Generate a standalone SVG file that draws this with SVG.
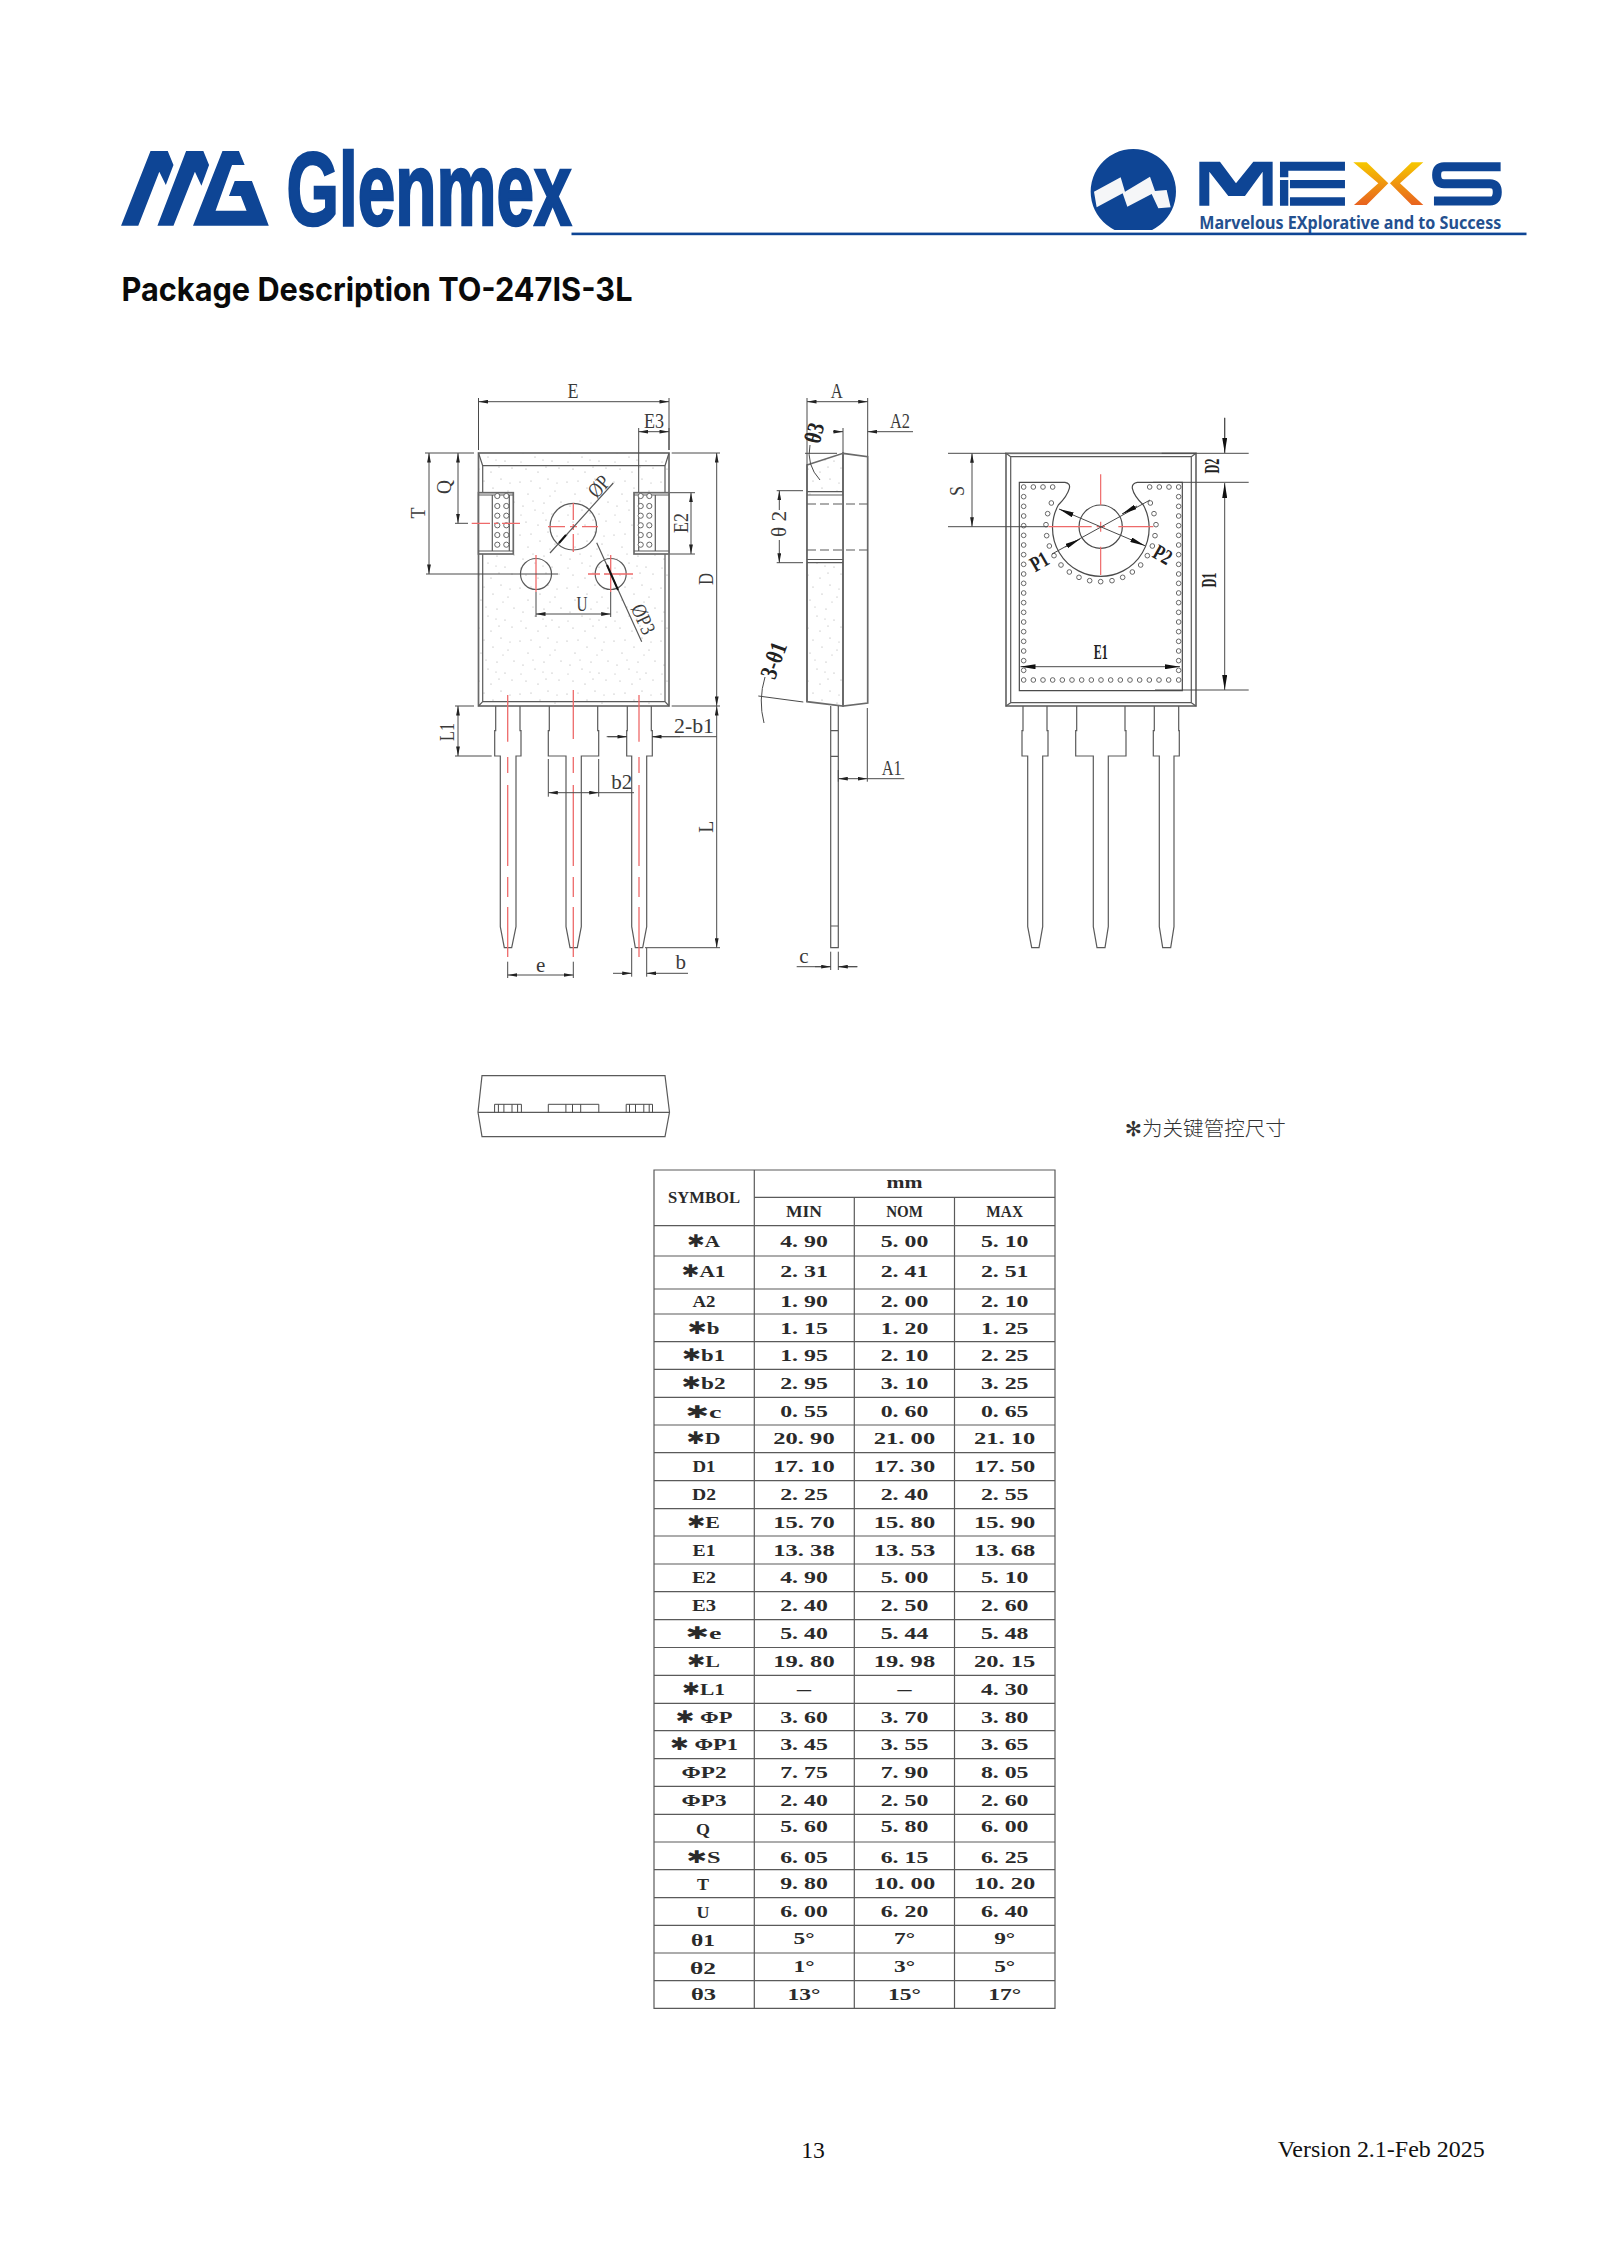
<svg xmlns="http://www.w3.org/2000/svg" width="1600" height="2262" viewBox="0 0 1600 2262">
<style>
.l{fill:none;stroke:#5a5a5a;stroke-width:1.2}
.t{fill:none;stroke:#6a6a6a;stroke-width:1.7}
.d{fill:none;stroke:#4a4a4a;stroke-width:1}
.r{fill:none;stroke:#ee6a6a;stroke-width:1.3}
.h{fill:#fff;stroke:#666;stroke-width:1}
.a{marker-end:url(#arr)}
.aa{marker-start:url(#arr);marker-end:url(#arr)}
.b{marker-end:url(#big)}
.bb{marker-start:url(#big);marker-end:url(#big)}
.lb{font-family:"Liberation Serif",serif;font-size:21px;fill:#3a3a3a;text-anchor:middle}
.lbb{font-family:"Liberation Serif",serif;font-size:21px;font-weight:bold;fill:#222;text-anchor:middle}
.v{font-family:"Liberation Serif",serif;font-weight:bold;font-size:17.5px;fill:#2a2a2a;text-anchor:middle}
.s{font-family:"Liberation Serif","DejaVu Sans",serif;font-weight:bold;font-size:17.5px;fill:#2a2a2a;text-anchor:middle}
.st{font-family:"DejaVu Sans",sans-serif}
.g{stroke:#5a5a5a;stroke-width:1.2;fill:none}
.bl{fill:#0e4595}
</style>
<defs>
<marker id="arr" viewBox="0 0 10 4" refX="10" refY="2" markerUnits="userSpaceOnUse" markerWidth="10" markerHeight="3.8" orient="auto-start-reverse"><path d="M0,0L10,2L0,4Z" fill="#222"/></marker>
<marker id="big" viewBox="0 0 15 5" refX="15" refY="2.5" markerUnits="userSpaceOnUse" markerWidth="15" markerHeight="5" orient="auto-start-reverse"><path d="M0,0L15,2.5L0,5Z" fill="#111"/></marker>
<linearGradient id="xg" x1="0" y1="0" x2="0" y2="1"><stop offset="0" stop-color="#f6c800"/><stop offset="1" stop-color="#e8621f"/></linearGradient>
<pattern id="sp" width="47" height="53" patternUnits="userSpaceOnUse"><g fill="#a0a0a0"><circle cx="3" cy="5" r=".6"/><circle cx="11" cy="17" r=".6"/><circle cx="14" cy="4" r=".55"/><circle cx="23" cy="11" r=".6"/><circle cx="31" cy="2" r=".6"/><circle cx="38" cy="14" r=".55"/><circle cx="44" cy="25" r=".6"/><circle cx="6" cy="29" r=".6"/><circle cx="18" cy="33" r=".55"/><circle cx="27" cy="26" r=".6"/><circle cx="35" cy="37" r=".6"/><circle cx="42" cy="44" r=".55"/><circle cx="9" cy="45" r=".6"/><circle cx="21" cy="48" r=".6"/><circle cx="29" cy="43" r=".55"/><circle cx="16" cy="24" r=".5"/><circle cx="40" cy="6" r=".5"/><circle cx="33" cy="19" r=".5"/><circle cx="4" cy="38" r=".5"/><circle cx="26" cy="36" r=".5"/></g></pattern>
</defs>

<g id="logo-glenmex">
<g class="bl" transform="translate(100,120) scale(.3827,.3333)">
<polygon points="55,317 132,93 177,93 192,135 172,195 155,155 100,317"/>
<polygon points="150,317 225,93 270,93 285,135 265,197 248,155 192,317"/>
<polygon points="243,317 320,93 363,93 378,135 345,135 302,272 383,272 368,228 337,228 352,183 397,183 441,317"/>
</g>
<text x="286.5" y="224.5" font-family="Liberation Sans,sans-serif" font-weight="bold" font-size="104" textLength="285" lengthAdjust="spacingAndGlyphs" fill="#0e4595" stroke="#0e4595" stroke-width="2.6">Glenmex</text>
</g>

<g id="logo-mexs" transform="translate(1050,120) scale(.3333)">
<path class="bl" d="M193.8,330A128,128 0 1 1 306.2,330Z"/>
<polygon fill="#f5f6f8" points="132,215 212,172 225,215 300,170 315,213 350,210 362,262 325,265 305,222 232,260 218,220 140,262"/>
<path class="bl" d="M448,125H510L558,190L610,125H668V257H638V155L585,228H535L478,155V257H448Z"/>
<path class="bl" d="M690,125H885V152H715V172H690ZM690,180H715V257H690ZM720,180H885V205H720ZM720,232H885V257H720Z"/>
<path fill="url(#xg)" d="M910,127H950L1015,190L950,255H912L985,190ZM1120,127H1085L1020,190L1085,255H1120L1050,190Z"/>
<path d="M1352,140H1182Q1160,140 1160,165Q1160,191 1182,191H1320Q1342,191 1342,216Q1342,243 1320,243H1152" fill="none" stroke="#0e4595" stroke-width="27"/>
</g>
<text x="1199.3" y="229" font-family="Noto Sans,sans-serif" font-weight="700" font-size="17" textLength="302" lengthAdjust="spacingAndGlyphs" fill="#24508f">Marvelous EXplorative and to Success</text>
<rect x="571.5" y="232.6" width="955" height="2.6" fill="#0e4595"/>

<text x="121.5" y="300.5" font-family="Inter,sans-serif" font-weight="700" font-size="32.5" textLength="511" lengthAdjust="spacingAndGlyphs" fill="#0a0a0a">Package Description TO-247IS-3L</text>

<g id="front-view">
<rect x="478.5" y="453" width="190.5" height="253" fill="url(#sp)" class="t" style="fill:url(#sp)"/>
<path class="l" d="M482.7,465.7H665M478.5,453L482.7,465.7M669,453L665,465.7M482.7,465.7V492.7M482.7,554V701.7M665,465.7V492.7M665,554V701.7M482.7,701.7H665M478.5,706L482.7,701.7M669,706L665,701.7"/>
<g id="tab-left">
<rect x="478.5" y="492.7" width="34.8" height="61.3" class="t" style="fill:#fff"/>
<path class="l" d="M492.3,495V551M509.3,495V551M478.5,495H513M478.5,551H513"/>
<circle class="h" cx="497.3" cy="496" r="2.6"/><circle class="h" cx="506.3" cy="496" r="2.6"/><circle class="h" cx="497.3" cy="506" r="2.6"/><circle class="h" cx="506.3" cy="506" r="2.6"/><circle class="h" cx="497.3" cy="515.7" r="2.6"/><circle class="h" cx="506.3" cy="515.7" r="2.6"/><circle class="h" cx="497.3" cy="525.3" r="2.6"/><circle class="h" cx="506.3" cy="525.3" r="2.6"/><circle class="h" cx="497.3" cy="535" r="2.6"/><circle class="h" cx="506.3" cy="535" r="2.6"/><circle class="h" cx="497.3" cy="544.7" r="2.6"/><circle class="h" cx="506.3" cy="544.7" r="2.6"/>
</g>
<g id="tab-right">
<rect x="634" y="492.7" width="35" height="61.3" class="t" style="fill:#fff"/>
<path class="l" d="M638.7,495V551M655.3,495V551M634,495H669M634,551H669"/>
<circle class="h" cx="640.7" cy="496" r="2.6"/><circle class="h" cx="649.3" cy="496" r="2.6"/><circle class="h" cx="640.7" cy="506" r="2.6"/><circle class="h" cx="649.3" cy="506" r="2.6"/><circle class="h" cx="640.7" cy="515.7" r="2.6"/><circle class="h" cx="649.3" cy="515.7" r="2.6"/><circle class="h" cx="640.7" cy="525.3" r="2.6"/><circle class="h" cx="649.3" cy="525.3" r="2.6"/><circle class="h" cx="640.7" cy="535" r="2.6"/><circle class="h" cx="649.3" cy="535" r="2.6"/><circle class="h" cx="640.7" cy="544.7" r="2.6"/><circle class="h" cx="649.3" cy="544.7" r="2.6"/>
</g>
<circle class="l" cx="573.3" cy="526.7" r="23.3"/>
<circle class="l" cx="536" cy="574" r="15.5"/>
<circle class="l" cx="610.7" cy="574" r="15.5"/>
<path class="r" d="M548,526.7H565M570,526.7H577M582,526.7H598M573.3,503V520M573.3,524V530M573.3,534V552M471.7,523.3H490M494,523.3H498M502,523.3H520M536,555V592M610.7,555V592M588,574H600M604,574H633"/>
<path id="lead1" class="l" d="M495.7,706V730.7H494.7V756H500.3V926.7L504.3,947.7H511.7L516,926.7V756H521V730.7H520V706"/>
<path id="lead2" class="l" d="M549.3,706V730.7H548.3V756H566V926.7L570,947.7H577.3L581.3,926.7V756H598.7V730.7H597.7V706"/>
<path id="lead3" class="l" d="M627.3,706V730.7H626.7V756H631.7V926.7L635.3,947.7H642.7L646.7,926.7V756H652.3V730.7H651.3V706"/>
<path class="r" d="M507.7,695V741.7M507.7,757V773M507.7,785V866M507.7,877V897M507.7,907V957M573.3,690V739M573.3,757V773M573.3,785V866M573.3,877V897M573.3,907V957M639,695V741.7M639,757V773M639,785V866M639,877V897M639,907V957"/>
</g>

<g id="side-view">
<path style="fill:url(#sp)" class="t" d="M807,465L843,453.3V706L807,701.7Z"/>
<path class="t" d="M843,453.3L867.7,456.7V703L843,706Z"/>
<rect x="807.5" y="495" width="35" height="66" fill="#fff"/>
<path class="t" d="M807,465V702M843,453.3V706"/>
<path class="l" d="M807,491.7H843M807,495H843M807,559.5H843M807,562.7H843"/>
<path class="l" stroke-dasharray="9 4" d="M807,504H867.7M807,550H867.7"/>
<path class="l" d="M830.7,706V947.7H838.3V706M830.7,730.7H838.3M830.7,756.3H838.3M830.7,926H838.3"/>
</g>

<g id="back-view">
<rect x="1006" y="453.3" width="190" height="252.7" class="t"/>
<path class="l" d="M1010.7,456.7H1191.3V702.7H1010.7ZM1006,453.3L1010.7,456.7M1196,453.3L1191.3,456.7M1006,706L1010.7,702.7M1196,706L1191.3,702.7"/>
<path id="lead-b1" class="l" d="M1023,706V730.7H1022V756H1027.7V926.7L1031.7,947.7H1039L1042.7,926.7V756H1048V730.7H1047V706"/>
<path id="lead-b2" class="l" d="M1076.7,706V730.7H1075.7V756H1093.3V926.7L1097,947.7H1105L1108.3,926.7V756H1126V730.7H1125V706"/>
<path id="lead-b3" class="l" d="M1154.3,706V730.7H1153.3V756H1159.3V926.7L1162.7,947.7H1170.7L1174,926.7V756H1179.3V730.7H1178.7V706"/>
<g transform="translate(980,390) scale(.33333)">
<path d="M118,277H255Q272,280 268,295Q262,318 235,345A145,145 0 1 0 490,345Q462,318 457,295Q455,280 472,277H607V902H118Z" fill="none" stroke="#4a4a4a" stroke-width="3.6"/>
<circle cx="362" cy="410" r="65" fill="none" stroke="#4a4a4a" stroke-width="3.6"/>
<g fill="#fff" stroke="#666" stroke-width="3">
<circle cx="131" cy="291" r="7"/><circle cx="160" cy="291" r="7"/><circle cx="189" cy="291" r="7"/><circle cx="218" cy="291" r="7"/>
<circle cx="509" cy="291" r="7"/><circle cx="538" cy="291" r="7"/><circle cx="567" cy="291" r="7"/><circle cx="596" cy="291" r="7"/>
<circle cx="131" cy="320" r="7"/><circle cx="131" cy="349" r="7"/><circle cx="131" cy="378" r="7"/><circle cx="131" cy="407" r="7"/><circle cx="131" cy="436" r="7"/><circle cx="131" cy="465" r="7"/><circle cx="131" cy="494" r="7"/><circle cx="131" cy="523" r="7"/><circle cx="131" cy="552" r="7"/><circle cx="131" cy="580" r="7"/><circle cx="131" cy="609" r="7"/><circle cx="131" cy="638" r="7"/><circle cx="131" cy="667" r="7"/><circle cx="131" cy="696" r="7"/><circle cx="131" cy="725" r="7"/><circle cx="131" cy="754" r="7"/><circle cx="131" cy="783" r="7"/><circle cx="131" cy="812" r="7"/><circle cx="131" cy="841" r="7"/>
<circle cx="596" cy="320" r="7"/><circle cx="596" cy="349" r="7"/><circle cx="596" cy="378" r="7"/><circle cx="596" cy="407" r="7"/><circle cx="596" cy="436" r="7"/><circle cx="596" cy="465" r="7"/><circle cx="596" cy="494" r="7"/><circle cx="596" cy="523" r="7"/><circle cx="596" cy="552" r="7"/><circle cx="596" cy="580" r="7"/><circle cx="596" cy="609" r="7"/><circle cx="596" cy="638" r="7"/><circle cx="596" cy="667" r="7"/><circle cx="596" cy="696" r="7"/><circle cx="596" cy="725" r="7"/><circle cx="596" cy="754" r="7"/><circle cx="596" cy="783" r="7"/><circle cx="596" cy="812" r="7"/><circle cx="596" cy="841" r="7"/>
<circle cx="131" cy="870" r="7"/><circle cx="160" cy="870" r="7"/><circle cx="189" cy="870" r="7"/><circle cx="218" cy="870" r="7"/><circle cx="247" cy="870" r="7"/><circle cx="276" cy="870" r="7"/><circle cx="305" cy="870" r="7"/><circle cx="334" cy="870" r="7"/><circle cx="363" cy="870" r="7"/><circle cx="392" cy="870" r="7"/><circle cx="421" cy="870" r="7"/><circle cx="450" cy="870" r="7"/><circle cx="479" cy="870" r="7"/><circle cx="508" cy="870" r="7"/><circle cx="537" cy="870" r="7"/><circle cx="566" cy="870" r="7"/><circle cx="596" cy="870" r="7"/>
<circle cx="214" cy="339" r="7"/><circle cx="203" cy="371" r="7"/><circle cx="198" cy="404" r="7"/><circle cx="200" cy="437" r="7"/><circle cx="208" cy="468" r="7"/><circle cx="222" cy="497" r="7"/><circle cx="243" cy="525" r="7"/><circle cx="268" cy="546" r="7"/><circle cx="297" cy="562" r="7"/><circle cx="329" cy="572" r="7"/><circle cx="362" cy="575" r="7"/><circle cx="396" cy="572" r="7"/><circle cx="428" cy="562" r="7"/><circle cx="457" cy="546" r="7"/><circle cx="482" cy="525" r="7"/><circle cx="502" cy="497" r="7"/><circle cx="517" cy="468" r="7"/><circle cx="525" cy="437" r="7"/><circle cx="528" cy="404" r="7"/><circle cx="522" cy="371" r="7"/><circle cx="511" cy="339" r="7"/>
</g>
<path fill="none" stroke="#ee6a6a" stroke-width="3.6" d="M205,410H335M350,410H375M415,410H520M362,253V345M362,395V425M362,470V555"/>
</g>
</g>

<g id="bottom-view">
<polygon class="l" points="482,1075.7 665,1075.7 669.5,1112.3 665,1136.7 482,1136.7 478,1112.3"/>
<path class="l" d="M478,1112.3H669.5"/>
<path class="d" d="M494.6,1112.3V1104.3H521.4V1112.3M498.4,1104.3V1112.3M503.9,1104.3V1112.3M512,1104.3V1112.3M517.6,1104.3V1112.3M548.3,1112.3V1104.3H598.8V1112.3M565.9,1104.3V1112.3M572.5,1104.3V1112.3M580.7,1104.3V1112.3M626.2,1112.3V1104.3H652.5V1112.3M629.5,1104.3V1112.3M635.5,1104.3V1112.3M643.8,1104.3V1112.3M649.2,1104.3V1112.3"/>
</g>

<g id="connectors">
<path class="d" d="M478.5,398V450M669,398V450"/>
<path class="d aa" d="M478.5,401.7H669"/>
<path class="d" d="M638.7,428V492M669,428V450"/>
<path class="d aa" d="M638.7,431.7H669"/>
<path class="d" d="M425,453H474M426,574H558M455,523.3H468M455,706H474M455,756H491.7M671.7,453H720M671.7,706H720M670,492.7H695M670,554H695M536,592V617M610.7,592V617"/>
<path class="d aa" d="M429,453V574"/>
<path class="d aa" d="M458,453V523.3"/>
<path class="d aa" d="M716.7,453V706"/>
<path class="d aa" d="M691,492.7V554"/>
<path class="d aa" d="M536,614H610.7"/>
<path class="g" d="M550,553L613.3,483M596.7,542.7L641.7,641.7"/>
<path stroke="#111" stroke-width="2" d="M559,543L566,535M607,565L618,590"/>
<path class="d aa" d="M458,706V756"/>
<path class="d" d="M606.7,736.7H627M652,736.7H716.7"/>
<path class="d a" d="M608,736.7H627"/>
<path class="d a" d="M680,736.7H652"/>
<path class="d aa" d="M716.7,706V947.7"/>
<path class="d" d="M645,947.7H720M548.3,759V796.7M598.7,759V796.7M598.7,792.7H634M507.7,961.7V978M573.3,961.7V978M631.7,948V976.7M646.7,948V976.7"/>
<path class="d aa" d="M548.3,792.7H598.7"/>
<path class="d aa" d="M507.7,975H573.3"/>
<path class="d a" d="M613,973.3H631.7"/>
<path class="d a" d="M688,973.3H646.7"/>

<path class="d" d="M807,398V465M867.7,398V456M843,428V453M805,453.3H837"/>
<path class="d aa" d="M807,401.7H867.7"/>
<path class="d a" d="M833,431.7H843"/>
<path class="d a" d="M913,431.7H867.7"/>
<path class="d" d="M776.7,490.7H803M776.7,562.7H803"/>
<path class="d a" d="M779.3,510V490.7"/>
<path class="d a" d="M779.3,540V562.7"/>
<path class="d" d="M810,445Q806,465 820,480M758.3,696L803.3,702M765,677Q758,700 764,723"/>
<path class="d" d="M867.3,708V781.7M838.3,770V781.7M867.3,778.7H904.3M830.7,951.7V970M838.3,951.7V970M796.7,966.7H830.7M838.3,966.7H857.3"/>
<path class="d aa" d="M838.3,778.7H867.3"/>
<path class="d a" d="M815,966.7H830.7"/>
<path class="d a" d="M857.3,966.7H838.3"/>

<path class="d" d="M948,453.3H1006M948,526.7H1048"/>
<path class="d aa" d="M972,453.3V526.7"/>
<path class="d" d="M1161.7,453.3H1248.7M1153,482.3H1248.7M1155,690H1248.7M1224.7,417.7V453"/>
<path class="d b" d="M1224.7,418V452.7"/>
<path class="d bb" d="M1224.7,483V690"/>
<path class="d bb" d="M1020.5,666.7H1180"/>
<path class="d bb" d="M1059,509L1145,545.7"/>
<path class="d" d="M1052,554L1150,500"/>
<path class="d b" d="M1065,547L1080,539"/>
<path class="d b" d="M1137,506L1122,514"/>
</g>

<g id="dimension-labels">
<text class="lb" x="573" y="398" textLength="11" lengthAdjust="spacingAndGlyphs">E</text>
<text class="lb" x="654" y="428" textLength="20" lengthAdjust="spacingAndGlyphs">E3</text>
<text class="lb" x="582" y="610.7" textLength="11" lengthAdjust="spacingAndGlyphs">U</text>
<text class="lb" transform="translate(425,513) rotate(-90)" textLength="11" lengthAdjust="spacingAndGlyphs">T</text>
<text class="lb" transform="translate(451,487) rotate(-90)" textLength="14" lengthAdjust="spacingAndGlyphs">Q</text>
<text class="lb" transform="translate(713,579) rotate(-90)" textLength="12" lengthAdjust="spacingAndGlyphs">D</text>
<text class="lb" transform="translate(688,523) rotate(-90)" textLength="20" lengthAdjust="spacingAndGlyphs">E2</text>
<text class="lb" transform="translate(604,491) rotate(-48)" font-size="20" textLength="22" lengthAdjust="spacingAndGlyphs">ØP</text>
<text class="lb" transform="translate(637,622) rotate(65)" textLength="31" lengthAdjust="spacingAndGlyphs">ØP3</text>
<text class="lb" transform="translate(454,732) rotate(-90)" textLength="18" lengthAdjust="spacingAndGlyphs">L1</text>
<text class="lb" x="694" y="732.7" textLength="40" lengthAdjust="spacingAndGlyphs">2-b1</text>
<text class="lb" transform="translate(713,826.7) rotate(-90)" textLength="12" lengthAdjust="spacingAndGlyphs">L</text>
<text class="lb" x="621.7" y="789">b2</text>
<text class="lb" x="540.7" y="971.7">e</text>
<text class="lb" x="680.7" y="969">b</text>
<text class="lb" x="836.7" y="398" textLength="12" lengthAdjust="spacingAndGlyphs">A</text>
<text class="lb" x="900" y="428" textLength="20" lengthAdjust="spacingAndGlyphs">A2</text>
<text class="lbb" transform="translate(822,435) rotate(-75)" style="font-size:24px" textLength="20" lengthAdjust="spacingAndGlyphs">θ3</text>
<text class="lb" transform="translate(786,524) rotate(-90)" textLength="26" lengthAdjust="spacingAndGlyphs">θ 2</text>
<text class="lbb" transform="translate(781,663) rotate(-70)" style="font-size:24px" textLength="37" lengthAdjust="spacingAndGlyphs">3-θ1</text>
<text class="lb" x="891.7" y="775" textLength="20" lengthAdjust="spacingAndGlyphs">A1</text>
<text class="lb" x="804" y="963">c</text>
<text class="lb" transform="translate(964,491) rotate(-90)" textLength="10" lengthAdjust="spacingAndGlyphs">S</text>
<text class="lbb" x="1100.7" y="659" textLength="14" lengthAdjust="spacingAndGlyphs">E1</text>
<text class="lbb" transform="translate(1218.5,466) rotate(-90)" textLength="15" lengthAdjust="spacingAndGlyphs">D2</text>
<text class="lbb" transform="translate(1216,580) rotate(-90)" textLength="15" lengthAdjust="spacingAndGlyphs">D1</text>
<text class="lbb" transform="translate(1043,568) rotate(-30)" style="font-size:22px" textLength="18" lengthAdjust="spacingAndGlyphs">P1</text>
<text class="lbb" transform="translate(1159,561) rotate(30)" style="font-size:22px" textLength="18" lengthAdjust="spacingAndGlyphs">P2</text>
<text x="1124.8" y="1135.5" font-family="Noto Sans CJK SC,DejaVu Sans,sans-serif" font-weight="300" font-size="20.5" textLength="161" lengthAdjust="spacingAndGlyphs" fill="#333"><tspan font-family="DejaVu Sans,sans-serif" font-weight="bold">✻</tspan>为关键管控尺寸</text>
</g>

<g id="table">
<path class="g" d="M654,1170H1055V2008.3H654ZM754.3,1170V2008.3M854.3,1197.3V2008.3M954.5,1197.3V2008.3M754.3,1197.3H1055M654,1225.7H1055M654,1256H1055M654,1289H1055M654,1314H1055M654,1341.7H1055M654,1369.3H1055M654,1397.3H1055M654,1425H1055M654,1452.7H1055M654,1480.7H1055M654,1508.7H1055M654,1536H1055M654,1564H1055M654,1591.7H1055M654,1619.6H1055M654,1647.5H1055M654,1675.4H1055M654,1703.3H1055M654,1730.7H1055M654,1758.7H1055M654,1786.3H1055M654,1814.3H1055M654,1842H1055M654,1869.7H1055M654,1897.7H1055M654,1925.3H1055M654,1953H1055M654,1980.7H1055"/>
<text class="v" x="904.5" y="1188.3" textLength="36" lengthAdjust="spacingAndGlyphs">mm</text>
<text class="v" x="704" y="1203.3" textLength="72" lengthAdjust="spacingAndGlyphs">SYMBOL</text>
<text class="v" x="804" y="1217.3" textLength="36" lengthAdjust="spacingAndGlyphs">MIN</text>
<text class="v" x="904.5" y="1217.3" textLength="36.7" lengthAdjust="spacingAndGlyphs">NOM</text>
<text class="v" x="1004.7" y="1217.3" textLength="36.7" lengthAdjust="spacingAndGlyphs">MAX</text>

<text class="s" x="703.5" y="1246.7" textLength="33" lengthAdjust="spacingAndGlyphs"><tspan class="st">✱</tspan>A</text><text class="v" x="804" y="1246.7" textLength="47.6" lengthAdjust="spacingAndGlyphs">4. 90</text><text class="v" x="904.5" y="1246.7" textLength="47.6" lengthAdjust="spacingAndGlyphs">5. 00</text><text class="v" x="1004.7" y="1246.7" textLength="47.6" lengthAdjust="spacingAndGlyphs">5. 10</text>
<text class="s" x="703.5" y="1276.5" textLength="44" lengthAdjust="spacingAndGlyphs"><tspan class="st">✱</tspan>A1</text><text class="v" x="804" y="1276.5" textLength="47.6" lengthAdjust="spacingAndGlyphs">2. 31</text><text class="v" x="904.5" y="1276.5" textLength="47.6" lengthAdjust="spacingAndGlyphs">2. 41</text><text class="v" x="1004.7" y="1276.5" textLength="47.6" lengthAdjust="spacingAndGlyphs">2. 51</text>
<text class="s" x="704" y="1307.3" textLength="23" lengthAdjust="spacingAndGlyphs">A2</text><text class="v" x="804" y="1307.3" textLength="47.6" lengthAdjust="spacingAndGlyphs">1. 90</text><text class="v" x="904.5" y="1307.3" textLength="47.6" lengthAdjust="spacingAndGlyphs">2. 00</text><text class="v" x="1004.7" y="1307.3" textLength="47.6" lengthAdjust="spacingAndGlyphs">2. 10</text>
<text class="s" x="703.5" y="1333.5" textLength="32" lengthAdjust="spacingAndGlyphs"><tspan class="st">✱</tspan>b</text><text class="v" x="804" y="1333.5" textLength="47.6" lengthAdjust="spacingAndGlyphs">1. 15</text><text class="v" x="904.5" y="1333.5" textLength="47.6" lengthAdjust="spacingAndGlyphs">1. 20</text><text class="v" x="1004.7" y="1333.5" textLength="47.6" lengthAdjust="spacingAndGlyphs">1. 25</text>
<text class="s" x="703.5" y="1361.3" textLength="43" lengthAdjust="spacingAndGlyphs"><tspan class="st">✱</tspan>b1</text><text class="v" x="804" y="1361.3" textLength="47.6" lengthAdjust="spacingAndGlyphs">1. 95</text><text class="v" x="904.5" y="1361.3" textLength="47.6" lengthAdjust="spacingAndGlyphs">2. 10</text><text class="v" x="1004.7" y="1361.3" textLength="47.6" lengthAdjust="spacingAndGlyphs">2. 25</text>
<text class="s" x="703.5" y="1389" textLength="44" lengthAdjust="spacingAndGlyphs"><tspan class="st">✱</tspan>b2</text><text class="v" x="804" y="1389" textLength="47.6" lengthAdjust="spacingAndGlyphs">2. 95</text><text class="v" x="904.5" y="1389" textLength="47.6" lengthAdjust="spacingAndGlyphs">3. 10</text><text class="v" x="1004.7" y="1389" textLength="47.6" lengthAdjust="spacingAndGlyphs">3. 25</text>
<text class="s" x="703.5" y="1418" textLength="36" lengthAdjust="spacingAndGlyphs"><tspan class="st">✱</tspan>c</text><text class="v" x="804" y="1416.7" textLength="47.6" lengthAdjust="spacingAndGlyphs">0. 55</text><text class="v" x="904.5" y="1416.7" textLength="47.6" lengthAdjust="spacingAndGlyphs">0. 60</text><text class="v" x="1004.7" y="1416.7" textLength="47.6" lengthAdjust="spacingAndGlyphs">0. 65</text>
<text class="s" x="703.5" y="1444.3" textLength="34" lengthAdjust="spacingAndGlyphs"><tspan class="st">✱</tspan>D</text><text class="v" x="804" y="1444.3" textLength="61.3" lengthAdjust="spacingAndGlyphs">20. 90</text><text class="v" x="904.5" y="1444.3" textLength="61.3" lengthAdjust="spacingAndGlyphs">21. 00</text><text class="v" x="1004.7" y="1444.3" textLength="61.3" lengthAdjust="spacingAndGlyphs">21. 10</text>
<text class="s" x="704" y="1472" textLength="23" lengthAdjust="spacingAndGlyphs">D1</text><text class="v" x="804" y="1472" textLength="61.3" lengthAdjust="spacingAndGlyphs">17. 10</text><text class="v" x="904.5" y="1472" textLength="61.3" lengthAdjust="spacingAndGlyphs">17. 30</text><text class="v" x="1004.7" y="1472" textLength="61.3" lengthAdjust="spacingAndGlyphs">17. 50</text>
<text class="s" x="704" y="1500" textLength="24" lengthAdjust="spacingAndGlyphs">D2</text><text class="v" x="804" y="1500" textLength="47.6" lengthAdjust="spacingAndGlyphs">2. 25</text><text class="v" x="904.5" y="1500" textLength="47.6" lengthAdjust="spacingAndGlyphs">2. 40</text><text class="v" x="1004.7" y="1500" textLength="47.6" lengthAdjust="spacingAndGlyphs">2. 55</text>
<text class="s" x="703.5" y="1527.7" textLength="33" lengthAdjust="spacingAndGlyphs"><tspan class="st">✱</tspan>E</text><text class="v" x="804" y="1527.7" textLength="61.3" lengthAdjust="spacingAndGlyphs">15. 70</text><text class="v" x="904.5" y="1527.7" textLength="61.3" lengthAdjust="spacingAndGlyphs">15. 80</text><text class="v" x="1004.7" y="1527.7" textLength="61.3" lengthAdjust="spacingAndGlyphs">15. 90</text>
<text class="s" x="704" y="1555.7" textLength="23" lengthAdjust="spacingAndGlyphs">E1</text><text class="v" x="804" y="1555.7" textLength="61.3" lengthAdjust="spacingAndGlyphs">13. 38</text><text class="v" x="904.5" y="1555.7" textLength="61.3" lengthAdjust="spacingAndGlyphs">13. 53</text><text class="v" x="1004.7" y="1555.7" textLength="61.3" lengthAdjust="spacingAndGlyphs">13. 68</text>
<text class="s" x="704" y="1583.3" textLength="24" lengthAdjust="spacingAndGlyphs">E2</text><text class="v" x="804" y="1583.3" textLength="47.6" lengthAdjust="spacingAndGlyphs">4. 90</text><text class="v" x="904.5" y="1583.3" textLength="47.6" lengthAdjust="spacingAndGlyphs">5. 00</text><text class="v" x="1004.7" y="1583.3" textLength="47.6" lengthAdjust="spacingAndGlyphs">5. 10</text>
<text class="s" x="704" y="1611" textLength="24" lengthAdjust="spacingAndGlyphs">E3</text><text class="v" x="804" y="1611" textLength="47.6" lengthAdjust="spacingAndGlyphs">2. 40</text><text class="v" x="904.5" y="1611" textLength="47.6" lengthAdjust="spacingAndGlyphs">2. 50</text><text class="v" x="1004.7" y="1611" textLength="47.6" lengthAdjust="spacingAndGlyphs">2. 60</text>
<text class="s" x="703.5" y="1639" textLength="36" lengthAdjust="spacingAndGlyphs"><tspan class="st">✱</tspan>e</text><text class="v" x="804" y="1639" textLength="47.6" lengthAdjust="spacingAndGlyphs">5. 40</text><text class="v" x="904.5" y="1639" textLength="47.6" lengthAdjust="spacingAndGlyphs">5. 44</text><text class="v" x="1004.7" y="1639" textLength="47.6" lengthAdjust="spacingAndGlyphs">5. 48</text>
<text class="s" x="703.5" y="1667" textLength="33" lengthAdjust="spacingAndGlyphs"><tspan class="st">✱</tspan>L</text><text class="v" x="804" y="1667" textLength="61.3" lengthAdjust="spacingAndGlyphs">19. 80</text><text class="v" x="904.5" y="1667" textLength="61.3" lengthAdjust="spacingAndGlyphs">19. 98</text><text class="v" x="1004.7" y="1667" textLength="61.3" lengthAdjust="spacingAndGlyphs">20. 15</text>
<text class="s" x="703.5" y="1694.7" textLength="43" lengthAdjust="spacingAndGlyphs"><tspan class="st">✱</tspan>L1</text><text class="v" x="804" y="1694.7" textLength="14" lengthAdjust="spacingAndGlyphs">–</text><text class="v" x="904.5" y="1694.7" textLength="14" lengthAdjust="spacingAndGlyphs">–</text><text class="v" x="1004.7" y="1694.7" textLength="47.6" lengthAdjust="spacingAndGlyphs">4. 30</text>
<text class="s" x="704" y="1723" textLength="57" lengthAdjust="spacingAndGlyphs"><tspan class="st">✱</tspan> ΦP</text><text class="v" x="804" y="1723" textLength="47.6" lengthAdjust="spacingAndGlyphs">3. 60</text><text class="v" x="904.5" y="1723" textLength="47.6" lengthAdjust="spacingAndGlyphs">3. 70</text><text class="v" x="1004.7" y="1723" textLength="47.6" lengthAdjust="spacingAndGlyphs">3. 80</text>
<text class="s" x="704" y="1750" textLength="68" lengthAdjust="spacingAndGlyphs"><tspan class="st">✱</tspan> ΦP1</text><text class="v" x="804" y="1750" textLength="47.6" lengthAdjust="spacingAndGlyphs">3. 45</text><text class="v" x="904.5" y="1750" textLength="47.6" lengthAdjust="spacingAndGlyphs">3. 55</text><text class="v" x="1004.7" y="1750" textLength="47.6" lengthAdjust="spacingAndGlyphs">3. 65</text>
<text class="s" x="704" y="1778" textLength="45" lengthAdjust="spacingAndGlyphs">ΦP2</text><text class="v" x="804" y="1778" textLength="47.6" lengthAdjust="spacingAndGlyphs">7. 75</text><text class="v" x="904.5" y="1778" textLength="47.6" lengthAdjust="spacingAndGlyphs">7. 90</text><text class="v" x="1004.7" y="1778" textLength="47.6" lengthAdjust="spacingAndGlyphs">8. 05</text>
<text class="s" x="704" y="1805.7" textLength="45" lengthAdjust="spacingAndGlyphs">ΦP3</text><text class="v" x="804" y="1805.7" textLength="47.6" lengthAdjust="spacingAndGlyphs">2. 40</text><text class="v" x="904.5" y="1805.7" textLength="47.6" lengthAdjust="spacingAndGlyphs">2. 50</text><text class="v" x="1004.7" y="1805.7" textLength="47.6" lengthAdjust="spacingAndGlyphs">2. 60</text>
<text class="s" x="703" y="1834.5" textLength="14" lengthAdjust="spacingAndGlyphs">Q</text><text class="v" x="804" y="1831.7" textLength="47.6" lengthAdjust="spacingAndGlyphs">5. 60</text><text class="v" x="904.5" y="1831.7" textLength="47.6" lengthAdjust="spacingAndGlyphs">5. 80</text><text class="v" x="1004.7" y="1831.7" textLength="47.6" lengthAdjust="spacingAndGlyphs">6. 00</text>
<text class="s" x="703.5" y="1863.3" textLength="34" lengthAdjust="spacingAndGlyphs"><tspan class="st">✱</tspan>S</text><text class="v" x="804" y="1863.3" textLength="47.6" lengthAdjust="spacingAndGlyphs">6. 05</text><text class="v" x="904.5" y="1863.3" textLength="47.6" lengthAdjust="spacingAndGlyphs">6. 15</text><text class="v" x="1004.7" y="1863.3" textLength="47.6" lengthAdjust="spacingAndGlyphs">6. 25</text>
<text class="s" x="703" y="1890" textLength="12" lengthAdjust="spacingAndGlyphs">T</text><text class="v" x="804" y="1889" textLength="47.6" lengthAdjust="spacingAndGlyphs">9. 80</text><text class="v" x="904.5" y="1889" textLength="61.3" lengthAdjust="spacingAndGlyphs">10. 00</text><text class="v" x="1004.7" y="1889" textLength="61.3" lengthAdjust="spacingAndGlyphs">10. 20</text>
<text class="s" x="703" y="1918" textLength="13" lengthAdjust="spacingAndGlyphs">U</text><text class="v" x="804" y="1916.7" textLength="47.6" lengthAdjust="spacingAndGlyphs">6. 00</text><text class="v" x="904.5" y="1916.7" textLength="47.6" lengthAdjust="spacingAndGlyphs">6. 20</text><text class="v" x="1004.7" y="1916.7" textLength="47.6" lengthAdjust="spacingAndGlyphs">6. 40</text>
<text class="s" x="703" y="1945.7" textLength="24" lengthAdjust="spacingAndGlyphs">θ1</text><text class="v" x="804" y="1944.3" textLength="21" lengthAdjust="spacingAndGlyphs">5°</text><text class="v" x="904.5" y="1944.3" textLength="21" lengthAdjust="spacingAndGlyphs">7°</text><text class="v" x="1004.7" y="1944.3" textLength="21" lengthAdjust="spacingAndGlyphs">9°</text>
<text class="s" x="703" y="1974" textLength="26" lengthAdjust="spacingAndGlyphs">θ2</text><text class="v" x="804" y="1971.7" textLength="21" lengthAdjust="spacingAndGlyphs">1°</text><text class="v" x="904.5" y="1971.7" textLength="21" lengthAdjust="spacingAndGlyphs">3°</text><text class="v" x="1004.7" y="1971.7" textLength="21" lengthAdjust="spacingAndGlyphs">5°</text>
<text class="s" x="703.5" y="2000" textLength="25" lengthAdjust="spacingAndGlyphs">θ3</text><text class="v" x="804" y="2000" textLength="33" lengthAdjust="spacingAndGlyphs">13°</text><text class="v" x="904.5" y="2000" textLength="33" lengthAdjust="spacingAndGlyphs">15°</text><text class="v" x="1004.7" y="2000" textLength="33" lengthAdjust="spacingAndGlyphs">17°</text>
</g>

<g id="footer">
<text x="813" y="2158" font-family="Liberation Serif,serif" font-size="23.7" text-anchor="middle" fill="#111">13</text>
<text x="1277.7" y="2157" font-family="Liberation Serif,serif" font-size="23.7" textLength="207" lengthAdjust="spacingAndGlyphs" fill="#111">Version 2.1-Feb 2025</text>
</g>
</svg>
